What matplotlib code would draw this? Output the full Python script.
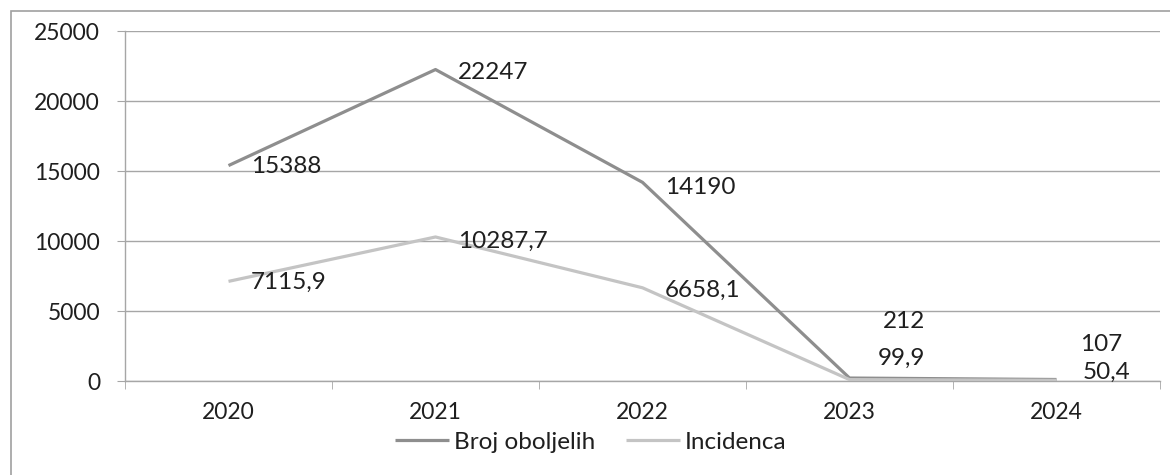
import numpy as np
import matplotlib
matplotlib.use("Agg")
import matplotlib.pyplot as plt
from matplotlib.patches import Rectangle

years = ["2020", "2021", "2022", "2023", "2024"]
broj = [15388, 22247, 14190, 212, 107]
incidenca = [7115.9, 10287.7, 6658.1, 99.9, 50.4]
broj_labels = ["15388", "22247", "14190", "212", "107"]
inc_labels = ["7115,9", "10287,7", "6658,1", "99,9", "50,4"]

# label offsets in points (Excel put the last ones by hand)
broj_off = [(16, -1), (16, -2), (16, -4), (24, 41), (17, 25)]
inc_off = [(16, -1), (16, -3), (16, -2), (20, 15), (19, 6)]

plt.rcParams['font.family'] = ['Lato', 'DejaVu Sans']
txt_color = '#1f1f1f'
grid_color = '#a6a6a6'
fs = 17.5
tick_fs = 16.5


def main():
    fig = plt.figure(figsize=(11.7, 4.75), dpi=100)
    ax = fig.add_axes([125 / 1170, 1 - 381 / 475, 1035 / 1170, 350 / 475])

    x = np.arange(len(years))
    ax.plot(x, broj, color='#8e8e8e', lw=2.3, label='Broj oboljelih',
            solid_capstyle='butt', zorder=3)
    ax.plot(x, incidenca, color='#c4c4c4', lw=2.3, label='Incidenca',
            solid_capstyle='butt', zorder=3)

    for xi, v, s, off in zip(x, broj, broj_labels, broj_off):
        ax.annotate(s, (xi, v), xytext=off, textcoords='offset points',
                    ha='left', va='center', fontsize=fs, color=txt_color)
    for xi, v, s, off in zip(x, incidenca, inc_labels, inc_off):
        ax.annotate(s, (xi, v), xytext=off, textcoords='offset points',
                    ha='left', va='center', fontsize=fs, color=txt_color)

    ax.set_xlim(-0.5, len(years) - 0.5)
    ax.set_ylim(0, 25000)
    ax.set_yticks(np.arange(0, 25001, 5000))
    ax.set_xticks(x)
    ax.set_xticklabels(years)
    ax.set_xticks(np.arange(-0.5, len(years), 1), minor=True)

    ax.yaxis.grid(True, color=grid_color, lw=1.0)
    ax.set_axisbelow(True)
    for side in ['top', 'right']:
        ax.spines[side].set_visible(False)
    for side in ['left', 'bottom']:
        ax.spines[side].set_color(grid_color)
        ax.spines[side].set_linewidth(1.0)

    ax.tick_params(axis='y', length=6, color=grid_color, pad=12,
                   labelsize=tick_fs, labelcolor=txt_color)
    ax.tick_params(axis='x', which='major', length=0, pad=15,
                   labelsize=tick_fs, labelcolor=txt_color)
    ax.tick_params(axis='x', which='minor', length=6, color=grid_color)

    fig.legend(loc='center', bbox_to_anchor=(0.505, 1 - 442 / 475), ncol=2,
               frameon=False, fontsize=fs, handlelength=2.2,
               handletextpad=0.2, columnspacing=1.3, labelcolor=txt_color)

    fig.patches.append(Rectangle((11 / 1170, -0.1), 1.2, 1 - 11 / 475 + 0.1,
                                 transform=fig.transFigure, fill=False,
                                 edgecolor='#a0a0a0', lw=1.2))

    fig.savefig('out.png', dpi=100)


if __name__ == "__main__":
    main()
